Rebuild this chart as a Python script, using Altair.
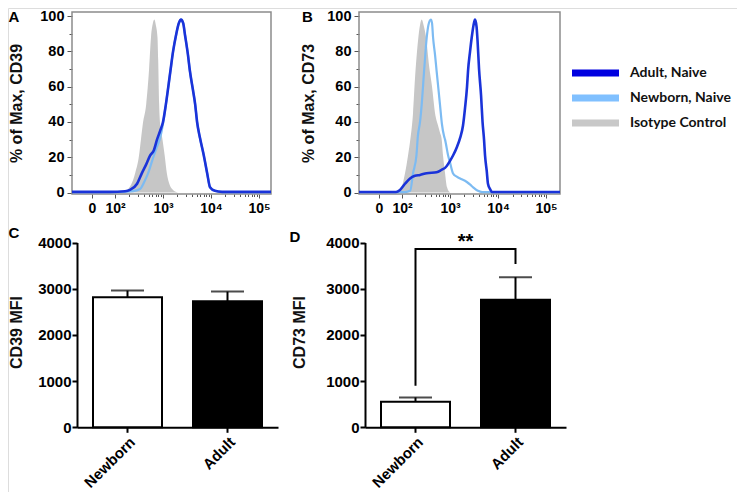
import math
import altair as alt
import pandas as pd

# ---------------- data ----------------
# Panels A/B: flow-cytometry histograms. x = position on the biexponential
# display axis in decades (10^2 -> 2, 10^3 -> 3, ...; the "0" label sits at 1.52),
# y = % of max.
a_iso_x = [2.10, 2.25, 2.42, 2.50, 2.54, 2.58, 2.65, 2.71, 2.75, 2.79, 2.82, 2.85, 2.885,
           2.90, 2.92, 2.94, 2.99, 3.035, 3.08, 3.19, 3.31]
a_iso_y = [0, 1.5, 11, 21, 30, 39, 50, 70, 88, 96, 98, 95, 88, 75, 50, 39, 30, 21, 11, 2, 0]

a_new_x = [1.104, 2.0, 2.375, 2.52, 2.625, 2.69, 2.75, 2.81, 2.875, 2.94, 3.0, 3.06, 3.15,
           3.21, 3.27, 3.33, 3.375, 3.42, 3.46, 3.52, 3.56, 3.625, 3.67, 3.71, 3.77, 3.85,
           3.92, 3.98, 4.08, 4.23, 5.25]
a_new_y = [0.3, 0.3, 0.8, 2, 7, 11, 16, 21, 26, 31, 39, 50, 68, 80, 89, 96, 98, 96, 89, 78,
           69, 58, 50, 40, 31, 21, 11, 3, 1, 0.3, 0.3]

a_ad_x = [1.104, 1.90, 2.21, 2.31, 2.46, 2.56, 2.65, 2.73, 2.81, 2.875, 2.94, 3.0, 3.06, 3.15,
          3.21, 3.27, 3.33, 3.375, 3.42, 3.46, 3.52, 3.56, 3.625, 3.67, 3.71, 3.77, 3.85,
          3.92, 3.98, 4.08, 4.23, 5.25]
a_ad_y = [0.4, 0.4, 0.8, 1.5, 5, 11, 16, 21, 24, 30, 35, 40, 50, 68, 80, 89, 96, 98, 96, 89,
          78, 69, 58, 50, 40, 31, 21, 11, 3, 1, 0.4, 0.4]

b_iso_x = [1.854, 1.958, 2.0625, 2.125, 2.177, 2.229, 2.271, 2.333, 2.375, 2.41, 2.448, 2.5,
           2.5625, 2.625, 2.6875, 2.75, 2.79, 2.827, 2.854, 2.896, 2.9375, 3.0]
b_iso_y = [0, 1, 11, 21, 31, 45, 65, 86, 95, 98, 95, 88, 72, 60, 45, 38, 34, 30, 21, 11, 3, 0]

b_new_x = [1.104, 2.06, 2.17, 2.23, 2.30, 2.33, 2.375, 2.41, 2.46, 2.515, 2.55, 2.60, 2.625,
           2.646, 2.6875, 2.72, 2.79, 2.83, 2.875, 2.896, 2.96, 3.0, 3.06, 3.14, 3.21, 3.35,
           3.42, 3.48, 3.58, 3.67, 5.29]
b_new_y = [0.3, 0.3, 1, 11, 21, 32, 40, 50, 69, 88, 95, 98, 96, 88, 78, 69, 50, 39, 32, 30,
           21, 17, 11, 9, 8, 6, 4.5, 3, 1, 0.3, 0.3]

b_ad_x = [1.104, 1.875, 1.958, 2.0625, 2.167, 2.27, 2.375, 2.515, 2.72, 2.83, 2.896, 3.0,
          3.0625, 3.146, 3.21, 3.27, 3.3125, 3.354, 3.375, 3.417, 3.452, 3.49, 3.52, 3.552,
          3.573, 3.604, 3.646, 3.677, 3.708, 3.729, 3.765, 3.79, 3.833, 3.875, 5.29]
b_ad_y = [0.3, 0.3, 1.5, 5, 8, 9.5, 10, 11, 11.5, 13, 14, 18, 21, 26, 31, 38, 48, 60, 69, 80,
          88, 95, 98, 94, 86, 70, 55, 40, 30, 21, 12, 5, 2, 0.3, 0.3]

hist_ticks = [1.52, 2, 3, 4, 5]
hist_tick_labels = ["0", "10²", "10³", "10⁴", "10⁵"]

# Panels C/D: MFI, mean and SEM
groups = ["Newborn", "Adult"]
cd39_mfi = [2815, 2728]
cd39_sem = [144, 209]
cd73_mfi = [552, 2760]
cd73_sem = [94, 490]
bar_ticks = [0, 1000, 2000, 3000, 4000]

# significance bracket in D
bracket_groups = ["Newborn", "Newborn", "Adult", "Adult"]
bracket_y = [897, 3858, 3858, 3535]
sig_label = "**"

legend_labels = ["Adult, Naive", "Newborn, Naive", "Isotype Control"]

# ---------------- styles ----------------
W, H = 729, 484
ADULT = "#1a33d9"
NEWBORN = "#7dbbf2"
ISO = "#c6c6c6"
FRAME = "#8c8c8c"
legend_colors = ["#0000e0", "#80c0ff", "#c8c8c8"]
FONT = "Liberation Sans"

HY_DOM = [-0.8, 102.3]
HY_RANGE = [186, 4]
BY_RANGE = [419.3, 234.5]

one = pd.DataFrame({"k": [0]})


def cond_size(test, big, small):
    return {"condition": {"test": test, "value": big}, "value": small}


minor_x = [round(math.log10(k * 10 ** n), 4) for n in (2, 3, 4) for k in range(2, 10)]
x_vals = hist_ticks + minor_x
major_test_x = "indexof([" + ",".join(str(v) for v in hist_ticks) + "], datum.value) >= 0"
label_expr_x = " : ".join(
    f"datum.value == {v} ? '{l}'" for v, l in zip(hist_ticks, hist_tick_labels)) + " : ''"


def hist_panel(iso_x, iso_y, new_x, new_y, ad_x, ad_y, xdom, xr, ytitle, title_cx):
    axis_left = xr[0]
    xs = alt.Scale(domain=xdom, range=xr, nice=False, zero=False)
    ys = alt.Scale(domain=HY_DOM, range=HY_RANGE, nice=False, zero=False)
    xa = alt.Axis(orient="bottom", offset=HY_RANGE[0] - H, domain=False, grid=False,
                  values=x_vals, labelExpr=label_expr_x,
                  tickSize=cond_size(major_test_x, 4, 2.5), tickColor="#555", tickWidth=1,
                  labelFont=FONT, labelFontSize=14, labelFontWeight="bold", labelColor="black",
                  labelPadding=3, labelOverlap=False, labelFlush=False, title=None)
    ya = alt.Axis(orient="left", offset=-axis_left, domain=False, grid=False,
                  values=list(range(0, 101, 10)),
                  labelExpr="datum.value % 20 == 0 ? datum.label : ''",
                  tickSize=cond_size("datum.value % 20 == 0", 5, 3), tickColor="#555",
                  tickWidth=1, labelFont=FONT, labelFontSize=14.5, labelFontWeight="bold",
                  labelColor="black", labelPadding=3, labelOverlap=False, labelFlush=False,
                  title=ytitle, titleFont=FONT, titleFontSize=16, titleFontWeight="bold",
                  titleColor="#111", titleX=title_cx - axis_left, titleY=95, titleAngle=270,
                  titleAlign="center", titleBaseline="middle")
    frame = alt.Chart(one).mark_rect(fill="white", fillOpacity=0, stroke=FRAME,
                                     strokeWidth=1.5).encode(
        x=alt.XDatum(xdom[0], type="quantitative", scale=xs, axis=xa),
        x2=alt.X2Datum(xdom[1]),
        y=alt.YDatum(HY_DOM[0], type="quantitative", scale=ys, axis=ya),
        y2=alt.Y2Datum(HY_DOM[1]),
    )
    iso = alt.Chart(pd.DataFrame({"x": iso_x, "y": iso_y})).mark_area(
        color=ISO, interpolate="monotone").encode(
        x=alt.X("x:Q", scale=xs, axis=xa), y=alt.Y("y:Q", scale=ys, axis=ya))
    new = alt.Chart(pd.DataFrame({"x": new_x, "y": new_y})).mark_line(
        color=NEWBORN, strokeWidth=2.2, interpolate="monotone").encode(
        x=alt.X("x:Q", scale=xs, axis=xa), y=alt.Y("y:Q", scale=ys, axis=ya))
    ad = alt.Chart(pd.DataFrame({"x": ad_x, "y": ad_y})).mark_line(
        color=ADULT, strokeWidth=2.6, interpolate="monotone").encode(
        x=alt.X("x:Q", scale=xs, axis=xa), y=alt.Y("y:Q", scale=ys, axis=ya))
    return alt.layer(frame, iso, new, ad)


def bar_panel(vals, sems, xr, ytitle, title_cx, sig=False):
    axis_left = xr[0]
    df = pd.DataFrame({"group": groups, "mfi": vals, "sem": sems})
    df["upper"] = df["mfi"] + df["sem"]
    xs = alt.Scale(domain=groups, range=xr, paddingInner=0.31, paddingOuter=0.16)
    ys = alt.Scale(domain=[0, 4000], range=BY_RANGE, nice=False)
    xa = alt.Axis(orient="bottom", offset=BY_RANGE[0] - H, grid=False, domainColor="black",
                  domainWidth=2, tickColor="black", tickWidth=2, tickSize=5,
                  labelAngle=315, labelAlign="right", labelBaseline="top", labelPadding=2,
                  labelFont=FONT, labelFontSize=15, labelFontWeight="bold",
                  labelColor="black", title=None)
    ya = alt.Axis(orient="left", offset=-axis_left, grid=False, domainColor="black",
                  domainWidth=2, tickColor="black", tickWidth=2, tickSize=5, values=bar_ticks,
                  format="d",
                  labelFont=FONT, labelFontSize=15, labelFontWeight="bold", labelColor="black",
                  labelPadding=1, labelFlush=False, labelOverlap=False,
                  title=ytitle, titleFont=FONT, titleFontSize=16, titleFontWeight="bold",
                  titleColor="#111", titleX=title_cx - axis_left, titleY=324, titleAngle=270,
                  titleAlign="center", titleBaseline="middle")
    X = alt.X("group:N", scale=xs, axis=xa, sort=groups)
    bars = alt.Chart(df).mark_bar(stroke="black", strokeWidth=2).encode(
        x=X, y=alt.Y("mfi:Q", scale=ys, axis=ya),
        fill=alt.condition(alt.datum.group == "Adult", alt.value("black"), alt.value("white")))
    err = alt.Chart(df).mark_rule(color="black", strokeWidth=2).encode(
        x=X, y=alt.Y("mfi:Q", scale=ys, axis=ya), y2="upper:Q")
    cap = alt.Chart(df).mark_tick(color="black", thickness=2, size=33).encode(
        x=X, y=alt.Y("upper:Q", scale=ys, axis=ya))
    layers = [bars, err, cap]
    if sig:
        bdf = pd.DataFrame({"group": bracket_groups, "y": bracket_y,
                            "o": list(range(len(bracket_y)))})
        bracket = alt.Chart(bdf).mark_line(color="black", strokeWidth=2,
                                           strokeJoin="miter").encode(
            x=X, y=alt.Y("y:Q", scale=ys, axis=ya), order="o:Q")
        sdf = pd.DataFrame({"group": [groups[0]], "y": [bracket_y[1]], "t": [sig_label]})
        star = alt.Chart(sdf).mark_text(font=FONT, fontSize=20, fontWeight="bold",
                                        baseline="alphabetic", dx=50, dy=-1,
                                        color="black").encode(
            x=X, y=alt.Y("y:Q", scale=ys, axis=ya), text="t:N")
        layers += [bracket, star]
    return alt.layer(*layers)


panel_a = hist_panel(a_iso_x, a_iso_y, a_new_x, a_new_y, a_ad_x, a_ad_y,
                     [1.104, 5.25], [64, 263], "% of Max, CD39", 8)
panel_b = hist_panel(b_iso_x, b_iso_y, b_new_x, b_new_y, b_ad_x, b_ad_y,
                     [1.104, 5.29], [351, 552], "% of Max, CD73", 300)
panel_c = bar_panel(cd39_mfi, cd39_sem, [69, 270], "CD39 MFI", 8.5)
panel_d = bar_panel(cd73_mfi, cd73_sem, [357, 558], "CD73 MFI", 291, sig=True)

# legend
ldf = pd.DataFrame({"label": legend_labels})
ly = alt.Y("label:N", scale=alt.Scale(type="point", domain=legend_labels, range=[65, 115],
                                      padding=0), axis=None, sort=legend_labels)
leg_rules = alt.Chart(ldf).mark_rule(strokeWidth=7, strokeCap="butt").encode(
    y=ly, x=alt.value(564), x2=alt.value(611),
    color=alt.Color("label:N", scale=alt.Scale(domain=legend_labels, range=legend_colors),
                    legend=None))
leg_text = alt.Chart(ldf).mark_text(align="left", baseline="middle", font="Lato",
                                    fontSize=14, fontWeight="bold", color="#111").encode(
    y=ly, x=alt.value(622), text="label:N")
legend = alt.layer(leg_rules, leg_text)


# panel letters
def letter(t, x, y):
    return alt.Chart(one).mark_text(text=t, font=FONT, fontSize=15, fontWeight="bold",
                                    align="center", baseline="middle", color="black").encode(
        x=alt.value(x), y=alt.value(y))


letters = alt.layer(letter("A", 6, 9), letter("B", 299.5, 9),
                    letter("C", 6, 225), letter("D", 287, 229))

chart = alt.layer(panel_a, panel_b, panel_c, panel_d, legend, letters).resolve_scale(
    x="independent", y="independent"
).properties(
    width=W, height=H, padding=0, autosize=alt.AutoSizeParams(type="none")
).configure_view(stroke=None).configure(background="white")

chart.save("out.html", embed_options={"renderer": "svg", "actions": False})
